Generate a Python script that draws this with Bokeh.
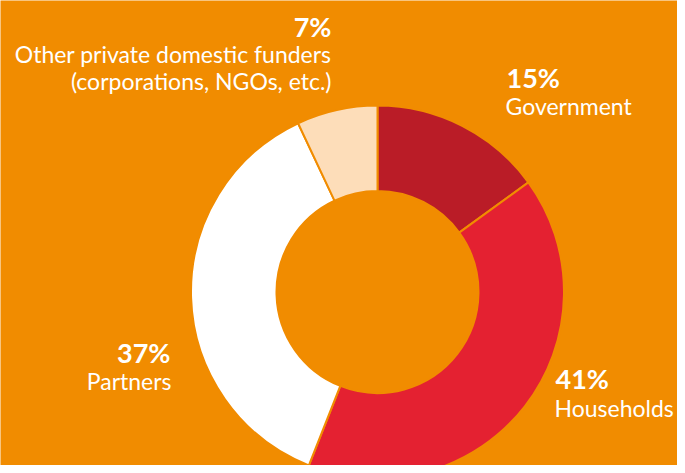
import numpy as np
from bokeh.plotting import figure
from bokeh.models import Range1d, Label
from bokeh.embed import file_html
from bokeh.resources import INLINE

# Data
categories = ["Government", "Households", "Partners", "Other private domestic funders"]
shares = [15, 41, 37, 7]
pct_labels = ["15%", "41%", "37%", "7%"]
name_lines = [["Government"], ["Households"], ["Partners"],
              ["Other private domestic funders", "(corporations, NGOs, etc.)"]]
colors = ["#BA1C27", "#E42131", "#FFFFFF", "#FDDDB9"]

BG = "#F18C00"
W, H = 677, 465
FONT = "Lato"
DY = 10  # baseline correction

p = figure(width=W, height=H, output_backend="svg", toolbar_location=None,
           x_range=Range1d(0, W), y_range=Range1d(0, H), min_border=0)
p.axis.visible = False
p.grid.visible = False
p.outline_line_color = None
p.background_fill_color = BG
p.border_fill_color = BG

vals = np.array(shares, dtype=float)
frac = vals / vals.sum()
cum = np.concatenate([[0], np.cumsum(frac)])
start = np.pi / 2 - cum[:-1] * 2 * np.pi
end = np.pi / 2 - cum[1:] * 2 * np.pi

cx, cy = 377, H - 291.5
p.annular_wedge(x=cx, y=cy, inner_radius=101, outer_radius=186.5,
                start_angle=start, end_angle=end, direction="clock",
                fill_color=colors, line_color=BG, line_width=2)

def lab(text, x, base_y, align, bold=False):
    p.add_layout(Label(x=x, y=H - base_y + DY, x_units="screen", y_units="screen", text=text,
                       text_align=align, text_baseline="alphabetic",
                       text_color="white", text_font=FONT,
                       text_font_size="27px" if bold else "23px",
                       text_font_style="bold" if bold else "normal"))

# Other private domestic funders (top left)
lab(pct_labels[3], 331, 36, "right", True)
lab(name_lines[3][0], 331, 63, "right")
lab(name_lines[3][1], 331, 90, "right")
# Government
lab(pct_labels[0], 506, 87, "left", True)
lab(name_lines[0][0], 505, 115, "left")
# Partners
lab(pct_labels[2], 170, 362, "right", True)
lab(name_lines[2][0], 171, 390, "right")
# Households
lab(pct_labels[1], 555, 388, "left", True)
lab(name_lines[1][0], 554, 417, "left")

open("out.html", "w").write(file_html(p, INLINE))
